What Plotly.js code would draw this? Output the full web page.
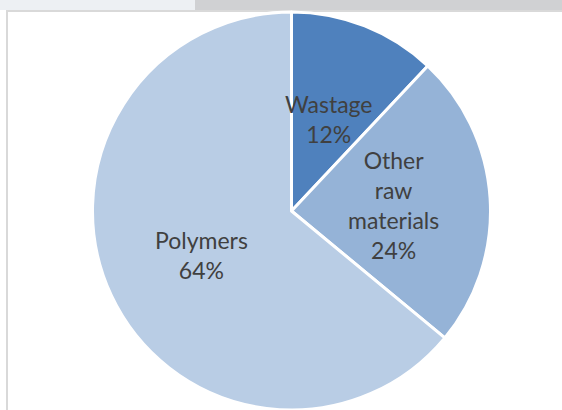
<!DOCTYPE html>
<html>
<head>
<meta charset="utf-8">
<script src="https://cdn.plot.ly/plotly-3.0.1.min.js"></script>
<style>
  html, body { margin: 0; padding: 0; background: #ffffff; }
  #chart { width: 562px; height: 410px; }
</style>
</head>
<body>
<div id="chart"></div>
<script>
// ---- data ----
var categories = ["Wastage", "Other raw materials", "Polymers"];
var labelLines = ["Wastage", "Other<br>raw<br>materials", "Polymers"];
var shares = [12, 24, 64];
var sliceColors = ["#4f81bd", "#95b3d7", "#b9cde5"];

// ---- label placement (pixels in a 562x410 page) ----
var labelPos = [[329, 119], [393.5, 204.5], [201.5, 255]];

var W = 562, H = 410;
function px(x) { return x / W; }
function py(y) { return 1 - y / H; }

var total = shares.reduce(function (a, b) { return a + b; }, 0);

var annotations = categories.map(function (c, i) {
  return {
    xref: "paper", yref: "paper",
    x: px(labelPos[i][0]), y: py(labelPos[i][1]),
    xanchor: "center", yanchor: "middle",
    text: labelLines[i] + "<br>" + Math.round(shares[i] / total * 100) + "%",
    showarrow: false,
    align: "center",
    font: { family: "Lato, sans-serif", size: 23, color: "#404040" }
  };
});

var trace = {
  type: "pie",
  labels: categories,
  values: shares,
  sort: false,
  direction: "clockwise",
  rotation: 0,
  textinfo: "none",
  hoverinfo: "none",
  marker: { colors: sliceColors, line: { color: "#ffffff", width: 3 } },
  domain: { x: [92.5 / W, 490.5 / W], y: [0, 398 / H] },
  showlegend: false
};

var shapes = [
  { type: "rect", xref: "paper", yref: "paper", x0: 0, x1: px(195), y0: py(10), y1: 1,
    fillcolor: "#edf0f3", line: { width: 0 }, layer: "below" },
  { type: "rect", xref: "paper", yref: "paper", x0: px(195), x1: 1, y0: py(10), y1: 1,
    fillcolor: "#d0d1d3", line: { width: 0 }, layer: "below" },
  { type: "line", xref: "paper", yref: "paper", x0: px(6), x1: 1, y0: py(11), y1: py(11),
    line: { color: "#d9d9d9", width: 2 }, layer: "below" },
  { type: "line", xref: "paper", yref: "paper", x0: px(7), x1: px(7), y0: 0, y1: py(10),
    line: { color: "#d9d9d9", width: 2 }, layer: "below" }
];

var layout = {
  width: W, height: H,
  margin: { l: 0, r: 0, t: 0, b: 0 },
  paper_bgcolor: "#ffffff",
  plot_bgcolor: "#ffffff",
  showlegend: false,
  annotations: annotations,
  shapes: shapes
};

Plotly.newPlot("chart", [trace], layout, { displayModeBar: false, staticPlot: true });
</script>
</body>
</html>
